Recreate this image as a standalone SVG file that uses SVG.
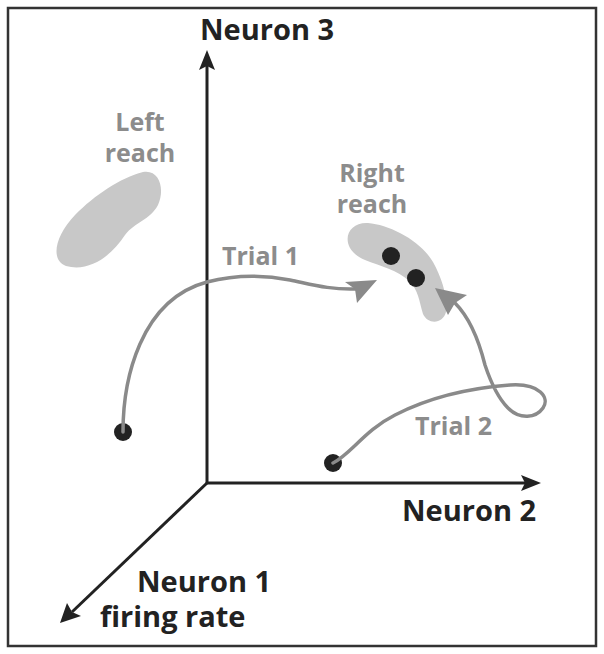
<svg xmlns="http://www.w3.org/2000/svg" width="604" height="654" viewBox="0 0 604 654">
<style>
.frame{fill:#fff;stroke:#333;stroke-width:2.5}
.axis{fill:none;stroke:#222;stroke-width:3}
.ahead{fill:#222}
.traj{fill:none;stroke:#8a8a8a;stroke-width:3.5;stroke-linecap:round}
.thead{fill:#8a8a8a}
.blob{fill:#c8c8c8}
.dot{fill:#222}
.lab{font-family:"Open Sans","Liberation Sans",sans-serif;font-weight:700;font-size:29px;fill:#222}
.glab{font-family:"Open Sans","Liberation Sans",sans-serif;font-weight:700;font-size:25px;fill:#8c8c8c}
</style>
<rect class="frame" x="8" y="8" width="588" height="638"/>
<g id="left-reach">
<path class="blob" d="M66,266 C50,260 55,236 75,215 C95,195 120,178 143,172 C160,169 165,190 158,205 C150,220 135,222 125,235 C110,258 88,272 66,266 Z"/>
<text class="glab" x="140" y="131" text-anchor="middle">Left</text>
<text class="glab" x="140" y="162" text-anchor="middle">reach</text>
</g>
<g id="right-reach">
<path class="blob" d="M350,248 C343,235 352,222 368,223 C390,225 420,240 433,262 C443,280 448,300 446,312 C443,324 428,325 423,314 C419,300 418,290 410,282 C398,270 380,266 365,260 C358,257 353,253 350,248 Z"/>
<text class="glab" x="372" y="182" text-anchor="middle">Right</text>
<text class="glab" x="372" y="213" text-anchor="middle">reach</text>
<circle class="dot" cx="391" cy="256" r="9"/>
<circle class="dot" cx="416" cy="278" r="9"/>
</g>
<g id="axes">
<line class="axis" x1="207" y1="483" x2="207" y2="66"/>
<polygon class="ahead" points="207,50 199,70 207,66 215,70"/>
<line class="axis" x1="207" y1="483" x2="526" y2="483"/>
<polygon class="ahead" points="541,483 521,475 525,483 521,491"/>
<line class="axis" x1="207" y1="483" x2="72" y2="612"/>
<polygon class="ahead" points="60,623 67,603 72,612 81,616"/>
<text class="lab" x="200" y="40">Neuron 3</text>
<text class="lab" x="402" y="521">Neuron 2</text>
<text class="lab" x="137" y="592">Neuron 1</text>
<text class="lab" x="100" y="627">firing rate</text>
</g>
<g id="trial1">
<circle class="dot" cx="123" cy="432" r="9"/>
<path class="traj" d="M123,432 C123,380 140,300 207,282 C230,276 260,274 290,280 C310,284 330,290 356,289"/>
<polygon class="thead" points="377,280 345,282 355,289 357,303"/>
<text class="glab" x="222" y="265">Trial 1</text>
</g>
<g id="trial2">
<circle class="dot" cx="333" cy="463" r="9"/>
<path class="traj" d="M333,463 C350,455 365,430 395,415 C430,397 470,388 510,385 C540,383 550,398 543,408 C536,418 520,420 508,408 C498,398 490,380 485,365 C480,345 472,320 455,303"/>
<polygon class="thead" points="435,288 467,295 455,303 448,315"/>
<text class="glab" x="415" y="435">Trial 2</text>
</g>
</svg>
